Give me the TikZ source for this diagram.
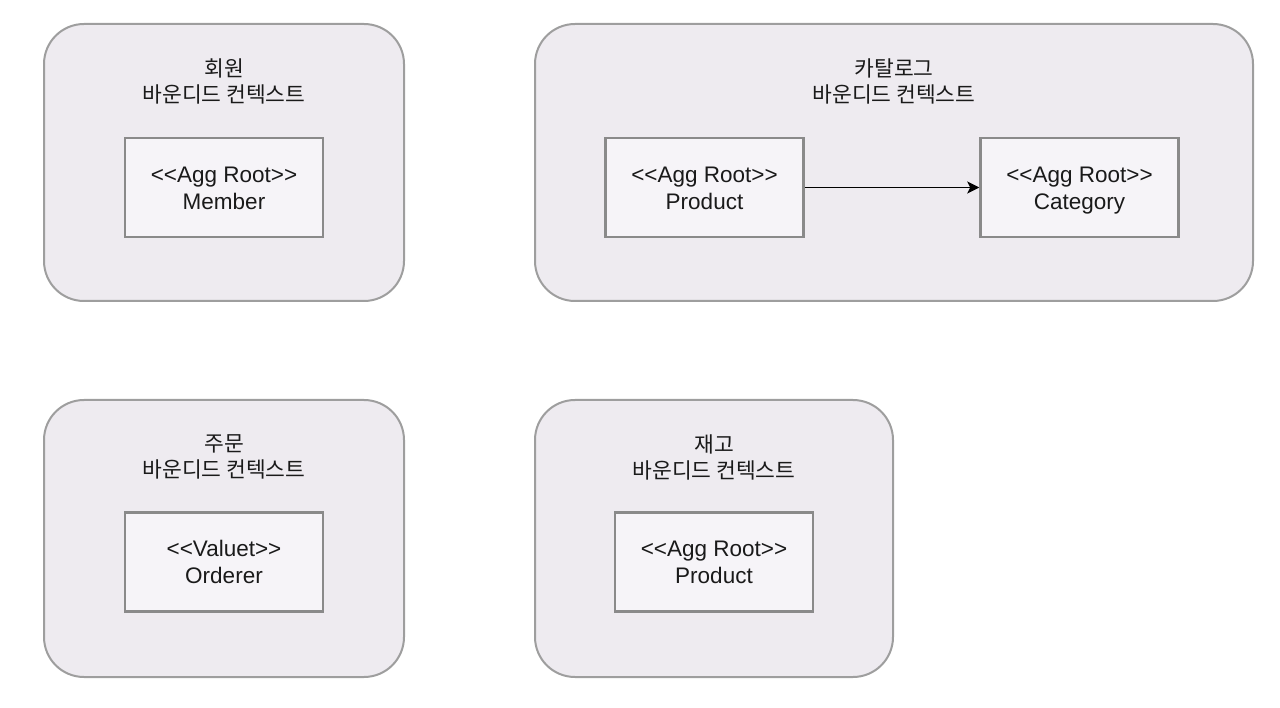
\documentclass[tikz,border=0pt]{standalone}
\usepackage{fontspec}
\newfontfamily\latinfont{Liberation Sans}
\newfontfamily\kofont{Noto Sans CJK KR}
\usetikzlibrary{arrows.meta}
\definecolor{ctxfill}{HTML}{EEEBF0}
\definecolor{ctxline}{HTML}{9E9E9E}
\definecolor{aggfill}{HTML}{F6F4F8}
\definecolor{aggline}{HTML}{8A8A8A}
\definecolor{txt}{HTML}{1A1A1A}
\newcommand\aggstrut{\rule{0pt}{25pt}}
\tikzset{
  context/.style={draw=ctxline, fill=ctxfill, line width=2pt, rounded corners=40pt,
    minimum height=277pt, inner sep=0pt},
  ctxtitle/.style={font=\kofont\fontsize{21.5}{26}\selectfont, text=txt, align=center},
  aggbox/.style={draw=aggline, fill=aggfill, line width=2.5pt, minimum width=198pt,
    minimum height=99pt, align=center, font=\latinfont\fontsize{22.5}{27}\selectfont, text=txt},
}
\begin{document}
\begin{tikzpicture}[x=1pt, y=-1pt]
        \useasboundingbox (0,0) rectangle (1280,708);
        % contexts
        \node[context, minimum width=360pt] (member ctx) at (224,162.5) {};
        \node[context, minimum width=718pt] (catalog ctx) at (894,162.5) {};
        \node[context, minimum width=360pt] (order ctx) at (224,538.5) {};
        \node[context, minimum width=358pt] (stock ctx) at (714,538.5) {};

        \node[ctxtitle] (member title) at (224,81) {회원\\바운디드 컨텍스트};
        \node[ctxtitle] (catalog title) at (894,81) {카탈로그\\바운디드 컨텍스트};
        \node[ctxtitle] (order title) at (224,457) {주문\\바운디드 컨텍스트};
        \node[ctxtitle] (stock title) at (714,457) {재고\\바운디드 컨텍스트};

        % aggregates
        \node[aggbox] (member) at (224,187.5) {\aggstrut<<Agg Root>>\\\strut Member};
        \node[aggbox] (product) at (704.5,187.5) {\aggstrut<<Agg Root>>\\\strut Product};
        \node[aggbox] (category) at (1079.5,187.5) {\aggstrut<<Agg Root>>\\\strut Category};
        \node[aggbox] (orderer) at (224,562) {\aggstrut<<Valuet>>\\\strut Orderer};
        \node[aggbox] (stock product) at (714,562) {\aggstrut<<Agg Root>>\\\strut Product};

        \draw[-{Stealth[length=12pt,width=12pt,inset=3pt]}, line width=1.6pt] (product) -- (category);
\end{tikzpicture}
\end{document}
